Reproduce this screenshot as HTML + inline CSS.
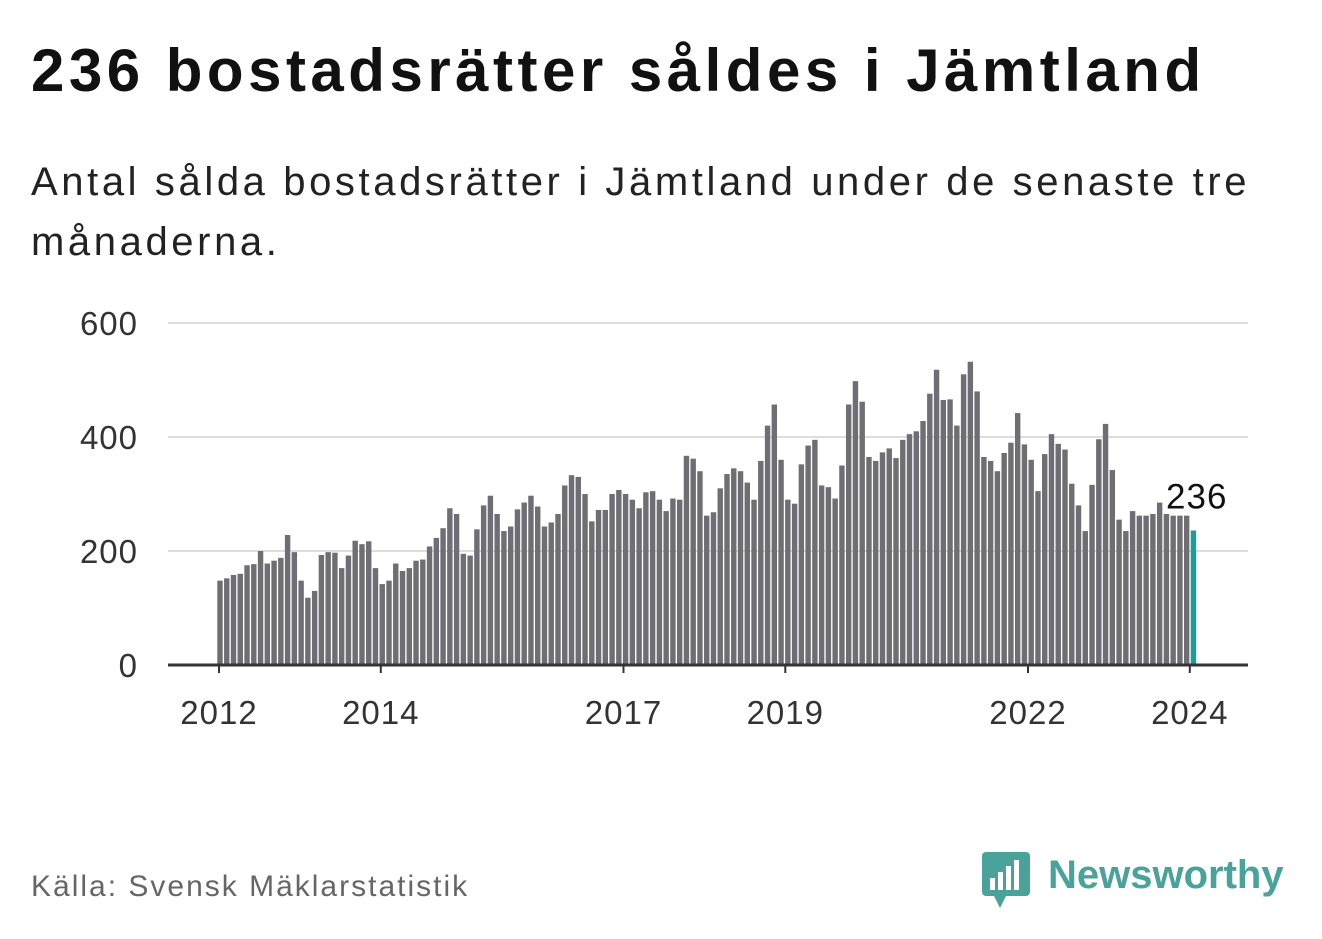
<!DOCTYPE html>
<html><head><meta charset="utf-8"><style>
body{margin:0;background:#fff;font-family:"Liberation Sans","DejaVu Sans",sans-serif;}
#wrap{position:relative;width:1322px;height:939px;overflow:hidden;}
h1{position:absolute;left:31px;top:36px;margin:0;font-size:60px;font-weight:bold;color:#111;letter-spacing:4.5px;white-space:nowrap;}
.sub{position:absolute;left:31px;top:152px;font-size:40px;color:#222;line-height:60px;width:1270px;letter-spacing:3.6px;}
.src{position:absolute;left:31px;top:870px;font-size:30px;color:#666;letter-spacing:2px;}
</style></head><body>
<div id="wrap">
<h1>236 bostadsrätter såldes i Jämtland</h1>
<div class="sub">Antal sålda bostadsrätter i Jämtland under de senaste tre månaderna.</div>
<svg id="chart" width="1322" height="939" style="position:absolute;left:0;top:0"></svg>
<div class="src">Källa: Svensk Mäklarstatistik</div>
<div style="position:absolute;left:980px;top:850px;">
<svg width="320" height="62"><rect x="2" y="2" width="48" height="44" rx="4" fill="#4aa39a"/><polygon points="14,46 26,46 20,58" fill="#4aa39a"/>
<rect x="10" y="28" width="5" height="12" fill="#fff"/><rect x="18" y="22" width="5" height="18" fill="#fff"/><rect x="26" y="16" width="5" height="24" fill="#fff"/><rect x="34" y="10" width="5" height="30" fill="#fff"/>
<text x="68" y="38" font-size="40" font-weight="bold" fill="#4aa39a" font-family="Liberation Sans, sans-serif">Newsworthy</text></svg></div>
</div>
<script>
const values=[148,152,158,160,175,177,200,178,183,188,228,198,
148,118,130,193,198,197,170,192,218,212,217,170,
142,148,178,165,170,183,185,208,223,240,275,265,
195,192,238,280,297,265,235,243,273,285,297,278,
243,250,265,315,333,330,300,252,272,272,300,307,
300,290,275,303,305,290,270,292,290,367,362,340,
262,268,310,335,345,340,320,290,358,420,457,360,
290,283,352,385,395,315,312,292,350,457,498,462,
365,358,373,380,363,395,405,410,428,476,518,465,
466,420,510,532,480,365,358,340,372,390,442,387,
360,305,370,405,388,378,318,280,235,316,396,423,
342,255,235,270,262,262,265,285,265,262,262,262,
236];
const yTicks=[0,200,400,600];
const xYears=[2012,2014,2017,2019,2022,2024];
const NS="http://www.w3.org/2000/svg";
const svg=document.getElementById('chart');
const y=v=>665-v*(342/600);
const x=i=>220+i*6.76;
const xy=yr=>219+(yr-2012)*80.9;
function mk(t,a){const e=document.createElementNS(NS,t);for(const k in a)e.setAttribute(k,a[k]);svg.appendChild(e);return e;}
yTicks.forEach(t=>{
 if(t>0){const g=mk('line',{x1:168,x2:1248,y1:y(t),y2:y(t),stroke:'#ddd','stroke-width':2});
 
 }
 const l=mk('text',{x:138,y:y(t)+12,'text-anchor':'end','font-size':33,fill:'#333','letter-spacing':1});l.textContent=t;
 
 
});
values.forEach((v,i)=>{
 const r=mk('rect',{x:x(i)-2.7,y:y(v),width:5.4,height:665-y(v),fill:i===values.length-1?'#1a9e95':'#6e6e74'});
 
 
});
const ax=mk('line',{x1:168,x2:1248,y1:665,y2:665,stroke:'#333','stroke-width':3});


xYears.forEach(yr=>{
 const tk=mk('line',{x1:xy(yr),x2:xy(yr),y1:665,y2:673,stroke:'#333','stroke-width':2});
 
 
 const l=mk('text',{x:xy(yr),y:724,'text-anchor':'middle','font-size':33,fill:'#333','letter-spacing':1});l.textContent=yr;
 
 
});
const last=values.length-1;
const lb=mk('text',{x:x(last)+34,y:y(values[last])-22,'text-anchor':'end','font-size':35,fill:'#111',stroke:'#fff','stroke-width':6,'paint-order':'stroke','letter-spacing':1});
lb.textContent=values[last];


</script>
</body></html>
